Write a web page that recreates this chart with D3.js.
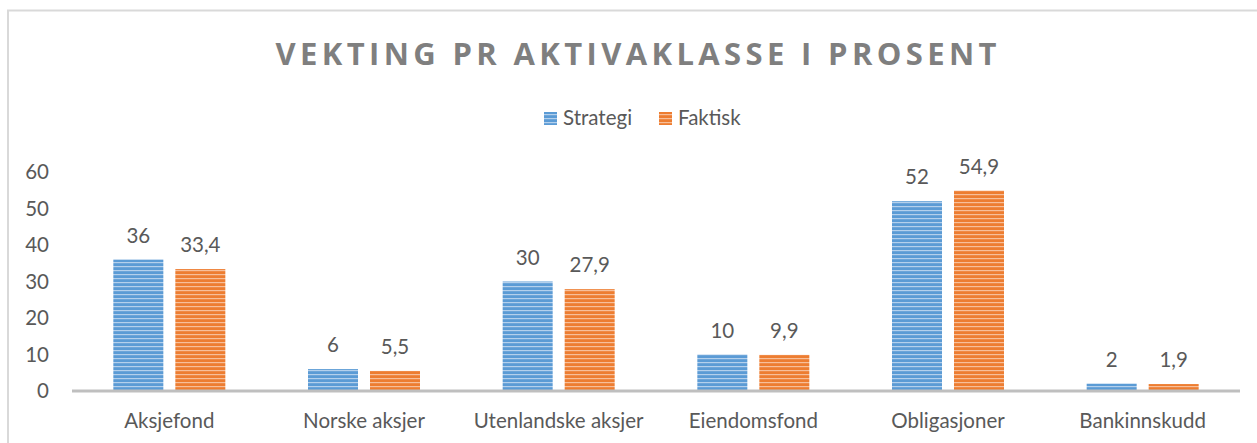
<!DOCTYPE html>
<html>
<head>
<meta charset="utf-8">
<script src="https://cdn.jsdelivr.net/npm/d3@7/dist/d3.min.js"></script>
<style>
  html, body { margin: 0; padding: 0; background: #fff; }
  svg { display: block; }
</style>
</head>
<body>
<svg id="chart" width="1257" height="443"></svg>
<script>
const categories = ["Aksjefond", "Norske aksjer", "Utenlandske aksjer", "Eiendomsfond", "Obligasjoner", "Bankinnskudd"];
const seriesNames = ["Strategi", "Faktisk"];
const strategi = [36, 6, 30, 10, 52, 2];
const faktisk = [33.4, 5.5, 27.9, 9.9, 54.9, 1.9];
const labelsStrategi = ["36", "6", "30", "10", "52", "2"];
const labelsFaktisk = ["33,4", "5,5", "27,9", "9,9", "54,9", "1,9"];
const yTicks = [0, 10, 20, 30, 40, 50, 60];
const titleText = "VEKTING PR AKTIVAKLASSE I PROSENT";

const colors = { "Strategi": "#5b9bd5", "Faktisk": "#ed7d31" };
const lightColors = { "Strategi": "#b4d0ec", "Faktisk": "#f7bf9a" };
const font = "Lato, 'Open Sans', sans-serif";
const fs = 20.5;
const textColor = "#595959";

const svg = d3.select("#chart");

// patterns
const defs = svg.append("defs");
seriesNames.forEach((s, i) => {
  const p = defs.append("pattern")
    .attr("id", "pat" + i)
    .attr("patternUnits", "userSpaceOnUse")
    .attr("width", 8).attr("height", 4);
  p.append("rect").attr("width", 8).attr("height", 4).attr("fill", colors[s]);
  p.append("rect").attr("y", 2).attr("width", 8).attr("height", 1.2).attr("fill", lightColors[s]);
});

// chart border
svg.append("rect")
  .attr("x", 8).attr("y", 10.5)
  .attr("width", 1270).attr("height", 460)
  .attr("fill", "none").attr("stroke", "#d9d9d9").attr("stroke-width", 2);

// title
svg.append("text")
  .attr("x", 636).attr("y", 65)
  .attr("text-anchor", "middle")
  .attr("font-family", "'Open Sans', Lato, sans-serif")
  .attr("font-weight", "bold")
  .attr("font-size", 31)
  .attr("fill", "#7f7f7f")
  .attr("textLength", 721)
  .attr("lengthAdjust", "spacing")
  .text(titleText);

// legend
const legendData = [
  { name: "Strategi", x: 544, idx: 0 },
  { name: "Faktisk", x: 659, idx: 1 }
];
const lg = svg.append("g");
legendData.forEach(d => {
  lg.append("rect").attr("x", d.x).attr("y", 112).attr("width", 13).attr("height", 13)
    .attr("fill", "url(#pat" + d.idx + ")");
  lg.append("text").attr("x", d.x + 19).attr("y", 125)
    .attr("font-family", font).attr("font-size", fs).attr("fill", textColor)
    .text(d.name);
});

// scales
const x0 = d3.scaleBand().domain(categories).range([72, 1240]).paddingInner(0).paddingOuter(0);
const groupW = 112;
const x1 = d3.scaleBand().domain(seriesNames).range([0, groupW]).paddingInner(2 - 112 / 62).paddingOuter(0);
const y = d3.scaleLinear().domain([0, 60]).range([391, 172]);

// y tick labels
svg.append("g").selectAll("text").data(yTicks).join("text")
  .attr("x", 49).attr("y", d => y(d))
  .attr("dy", "0.35em")
  .attr("text-anchor", "end")
  .attr("font-family", font).attr("font-size", fs).attr("fill", textColor)
  .text(d => d);

// bars
const rows = categories.map((c, i) => ({
  cat: c,
  vals: [
    { s: "Strategi", v: strategi[i], label: labelsStrategi[i], idx: 0 },
    { s: "Faktisk", v: faktisk[i], label: labelsFaktisk[i], idx: 1 }
  ]
}));

const groups = svg.append("g").selectAll("g").data(rows).join("g")
  .attr("transform", d => `translate(${x0(d.cat) + (x0.bandwidth() - groupW) / 2},0)`);

groups.selectAll("rect").data(d => d.vals).join("rect")
  .attr("x", d => x1(d.s))
  .attr("y", d => y(d.v))
  .attr("width", x1.bandwidth())
  .attr("height", d => y(0) - y(d.v))
  .attr("fill", d => "url(#pat" + d.idx + ")");

groups.selectAll("text").data(d => d.vals).join("text")
  .attr("x", d => x1(d.s) + x1.bandwidth() / 2)
  .attr("y", d => y(d.v) - 17)
  .attr("text-anchor", "middle")
  .attr("font-family", font).attr("font-size", fs).attr("fill", textColor)
  .text(d => d.label);

// x axis baseline
svg.append("line")
  .attr("x1", 72).attr("x2", 1240)
  .attr("y1", y(0)).attr("y2", y(0))
  .attr("stroke", "#bfbfbf").attr("stroke-width", 3);

// category labels
svg.append("g").selectAll("text").data(categories).join("text")
  .attr("x", d => x0(d) + x0.bandwidth() / 2)
  .attr("y", 428)
  .attr("text-anchor", "middle")
  .attr("font-family", font).attr("font-size", fs).attr("fill", textColor)
  .text(d => d);
</script>
</body>
</html>
